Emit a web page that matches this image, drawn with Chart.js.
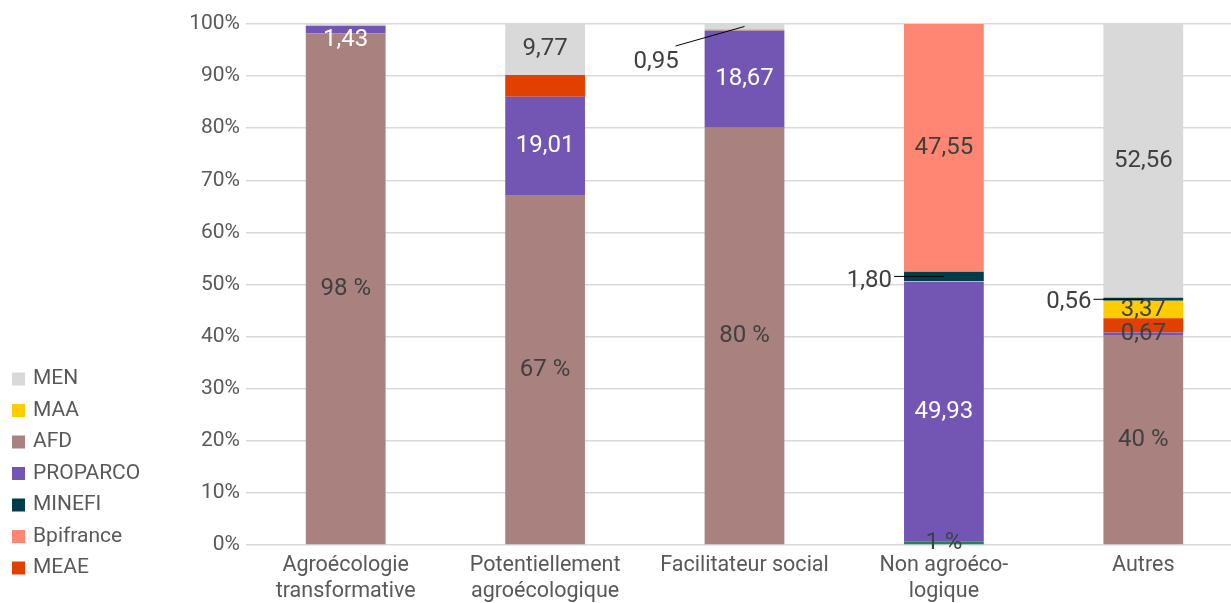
<!DOCTYPE html>
<html lang="fr">
<head>
<meta charset="utf-8">
<title>Répartition des financements par catégorie</title>
<script src="https://cdn.jsdelivr.net/npm/chart.js@4.4.0/dist/chart.umd.min.js"></script>
<style>
    html, body { margin: 0; padding: 0; background: #ffffff; overflow: hidden; }
    canvas { display: block; }
</style>
</head>
<body>
<canvas id="financementChart" width="1243" height="603"></canvas>
<script>
// ==========================================
// DATA (percentages, stacked bottom -> top)
// ==========================================
const categories = [
    ['Agroécologie', 'transformative'],
    ['Potentiellement', 'agroécologique'],
    'Facilitateur social',
    ['Non agroéco-', 'logique'],
    'Autres'
];
const afd       = [98.20, 67.02, 80.08, 0.62, 40.14];
const proparco  = [1.43, 19.01, 18.67, 49.93, 0.67];
const meae      = [0, 4.20, 0, 0, 2.70];
const maa       = [0.20, 0, 0.30, 0.10, 3.37];
const minefi    = [0, 0, 0, 1.80, 0.56];
const bpifrance = [0, 0, 0, 47.55, 0];
const men       = [0.17, 9.77, 0.95, 0, 52.56];
const yTicks    = [0, 10, 20, 30, 40, 50, 60, 70, 80, 90, 100];
const legendOrder = ['MEN', 'MAA', 'AFD', 'PROPARCO', 'MINEFI', 'Bpifrance', 'MEAE'];

// ==========================================
// STYLE
// ==========================================
const FONT = 'Roboto, "Noto Sans", "DejaVu Sans", sans-serif';
const TEXT = '#595959';
const DARK = '#404040';
const colors = {
    AFD: '#a9827f', PROPARCO: '#7356b4', MEAE: '#e24000', MAA: '#ffcc00',
    MINEFI: '#003c4a', Bpifrance: '#ff8672', MEN: '#d9d9d9'
};
const afdColors = afd.map((v, i) => i === 3 ? '#1b8a4f' : colors.AFD);

// which points get a label, and in which colour
const labelSpec = {
    AFD: { idx: [0, 1, 2, 3, 4], color: DARK, pct: true },
    PROPARCO: { idx: [0, 1, 2, 3, 4], color: ['#ffffff', '#ffffff', '#ffffff', '#ffffff', DARK] },
    MAA: { idx: [4], color: DARK },
    MINEFI: { idx: [3, 4], color: DARK },
    Bpifrance: { idx: [3], color: DARK },
    MEN: { idx: [1, 2, 4], color: DARK }
};
// labels placed outside the bar with a leader line
const callouts = [
    { label: 'MEN', idx: 2, dx: -29, dy: 19.5, tx: 3, ty: 16 },
    { label: 'MINEFI', idx: 3, dx: -10, dy: 0, tx: -2, ty: 5 },
    { label: 'MINEFI', idx: 4, dx: -10, dy: 0, tx: -2, ty: 3 }
];

const makeSet = (label, data, bg) => ({
    label, data,
    backgroundColor: bg || colors[label],
    borderWidth: 0,
    barPercentage: 0.4,
    categoryPercentage: 1.0
});

// ==========================================
// PLUGINS: value labels + side legend
// ==========================================
const valueLabels = {
    id: 'valueLabels',
    afterDatasetsDraw(chart) {
        const { ctx, chartArea } = chart;
        ctx.save();
        ctx.font = `400 24px ${FONT}`;
        ctx.textBaseline = 'middle';
        chart.data.datasets.forEach((ds, di) => {
            const spec = labelSpec[ds.label];
            if (!spec) return;
            const meta = chart.getDatasetMeta(di);
            spec.idx.forEach(i => {
                const v = ds.data[i];
                if (!v) return;
                const bar = meta.data[i].getProps(['x', 'y', 'base', 'width'], true);
                const cy = (bar.y + bar.base) / 2;
                const text = spec.pct ? `${Math.round(v)} %` : v.toFixed(2).replace('.', ',');
                const co = callouts.find(c => c.label === ds.label && c.idx === i);
                if (co) {
                    const ex = bar.x - bar.width / 2 + co.dx;
                    const ey = cy + co.dy;
                    ctx.strokeStyle = '#000000';
                    ctx.lineWidth = 1;
                    ctx.beginPath();
                    ctx.moveTo(bar.x, cy);
                    ctx.lineTo(ex, ey);
                    ctx.stroke();
                    ctx.fillStyle = DARK;
                    ctx.textAlign = 'right';
                    ctx.fillText(text, ex + co.tx, ey + co.ty);
                } else {
                    ctx.fillStyle = Array.isArray(spec.color) ? spec.color[i] : spec.color;
                    ctx.textAlign = 'center';
                    ctx.fillText(text, bar.x, Math.max(cy, chartArea.top + 16));
                }
            });
        });
        ctx.restore();
    }
};

const sideLegend = {
    id: 'sideLegend',
    afterDraw(chart) {
        const { ctx } = chart;
        ctx.save();
        ctx.font = `400 21px ${FONT}`;
        ctx.textBaseline = 'middle';
        ctx.textAlign = 'left';
        legendOrder.forEach((name, k) => {
            const cy = 379 + k * 31.5;
            ctx.fillStyle = colors[name];
            ctx.fillRect(12, cy - 6.5, 13, 13);
            ctx.fillStyle = TEXT;
            ctx.fillText(name, 33, cy);
        });
        ctx.restore();
    }
};

// ==========================================
// CHART
// ==========================================
new Chart(document.getElementById('financementChart'), {
    type: 'bar',
    data: {
        labels: categories,
        datasets: [
            makeSet('AFD', afd, afdColors),
            makeSet('PROPARCO', proparco),
            makeSet('MEAE', meae),
            makeSet('MAA', maa),
            makeSet('MINEFI', minefi),
            makeSet('Bpifrance', bpifrance),
            makeSet('MEN', men)
        ]
    },
    options: {
        responsive: false,
        animation: false,
        layout: { padding: { top: 24, left: 0, right: 0, bottom: 0 } },
        plugins: {
            legend: { display: false },
            tooltip: { enabled: false }
        },
        scales: {
            x: {
                stacked: true,
                grid: { display: false, drawTicks: false },
                border: { display: false },
                ticks: {
                    color: TEXT,
                    font: { family: FONT, size: 21.5, lineHeight: 1.2 },
                    padding: 8,
                    maxRotation: 0,
                    autoSkip: false
                },
                afterFit: (scale) => { scale.height = 58; }
            },
            y: {
                stacked: true,
                min: 0,
                max: 100,
                afterBuildTicks: (scale) => { scale.ticks = yTicks.map(v => ({ value: v })); },
                grid: { color: '#d9d9d9', lineWidth: 1.5, drawTicks: false },
                border: { display: false },
                ticks: {
                    color: TEXT,
                    font: { family: FONT, size: 21 },
                    padding: 6,
                    callback: (v) => `${v}%`
                },
                afterFit: (scale) => { scale.width = 246; }
            }
        }
    },
    plugins: [valueLabels, sideLegend]
});
</script>
</body>
</html>
